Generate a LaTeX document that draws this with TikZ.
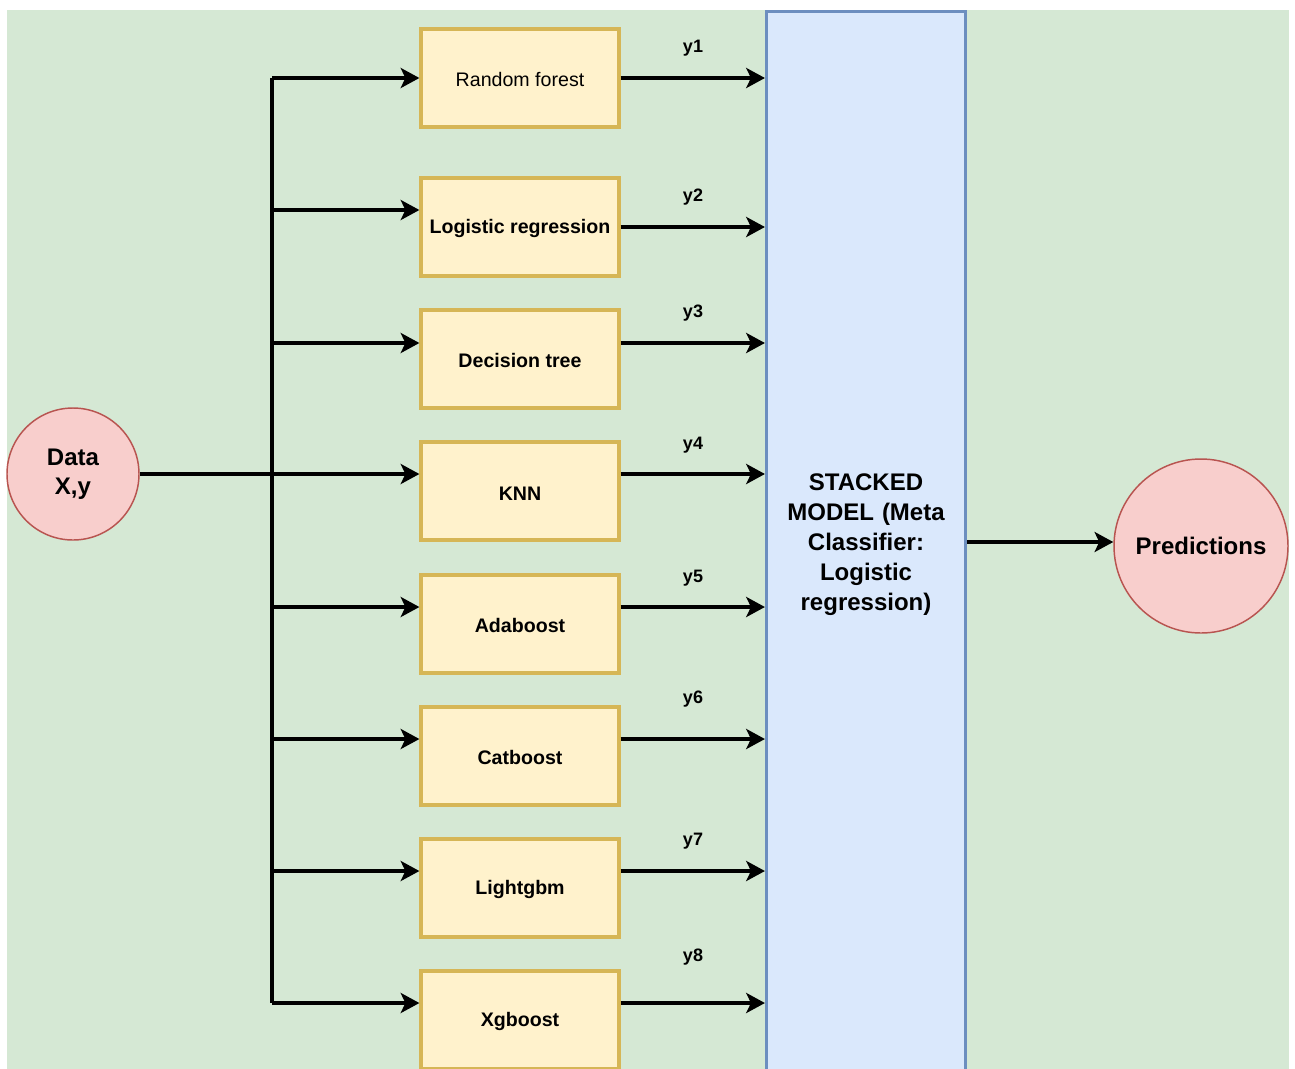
\documentclass[tikz,border=0pt]{standalone}
\usepackage{fontspec}
\setmainfont{Liberation Sans}
\usepackage{tikz}
\usetikzlibrary{arrows.meta, positioning, calc}

\definecolor{bggreen}{HTML}{D5E8D4}
\definecolor{boxfill}{HTML}{FFF2CC}
\definecolor{boxline}{HTML}{D6B656}
\definecolor{stackfill}{HTML}{DAE8FC}
\definecolor{stackline}{HTML}{6C8EBF}
\definecolor{circfill}{HTML}{F8CECC}
\definecolor{circline}{HTML}{B85450}

\begin{document}
\begin{tikzpicture}[
    x=0.75pt, y=-0.75pt,
    model/.style={rectangle, minimum width=148.5pt, minimum height=73.5pt, text height=13.5pt, text centered, draw=boxline, line width=2.4pt, fill=boxfill, font=\fontsize{14.7}{17}\selectfont\bfseries},
    meta/.style={rectangle, minimum width=149pt, minimum height=800pt, text width=130pt, align=center, draw=stackline, line width=2.6pt, fill=stackfill, font=\fontsize{18}{22.5}\selectfont\bfseries},
    blob/.style={circle, inner sep=0pt, align=center, draw=circline, line width=1.1pt, fill=circfill, font=\fontsize{18}{21.8}\selectfont\bfseries},
    ylab/.style={font=\fontsize{13.5}{16}\selectfont\bfseries},
    arrow/.style={line width=2.9pt, -{Stealth[length=14pt, width=15pt, inset=3.5pt]}},
    wire/.style={line width=2.9pt}
]

\clip (0,0) rectangle (1295,1068);
\fill[bggreen] (7,10) rectangle (1289,1080);

\node (data) [blob, minimum size=99pt] at (73,474) {Data\\X,y};
\node (stack) [meta] at (866,545) {STACKED MODEL (Meta Classifier: Logistic regression)};
\node (pred) [blob, minimum size=130.5pt] at (1201,546) {Predictions};

% base learners: name/text/centre y/in y/out y/label y/label
\foreach \n/\t/\cy/\iy/\oy/\ly/\lab in {
    rf/\mdseries Random forest/78/78/78/48/y1,
    lr/Logistic regression/227/210/227/197/y2,
    dt/Decision tree/359/343/343/313/y3,
    knn/KNN/491/474/474/445/y4,
    ada/Adaboost/624/607/607/578/y5,
    cat/Catboost/756/739/739/699/y6,
    lgbm/Lightgbm/888/871/871/841/y7,
    xgb/Xgboost/1020/1003/1003/957/y8} {
    \node (\n) [model] at (520,\cy) {\t};
    \coordinate (tap-\n) at (272,\iy);
    \coordinate (out-\n) at (\n.east |- 0,\oy);
    \draw [arrow] (tap-\n) -- (tap-\n -| \n.west);
    \draw [arrow] (out-\n) -- (out-\n -| stack.west);
    \node (lab-\n) [ylab] at (693,\ly) {\lab};
}

\draw [wire] (tap-rf) -- (tap-xgb);
\draw [wire] (data.east) -- (tap-knn);
\draw [arrow] (stack.east |- 0,542) -- (pred.west |- 0,542);

\end{tikzpicture}
\end{document}
